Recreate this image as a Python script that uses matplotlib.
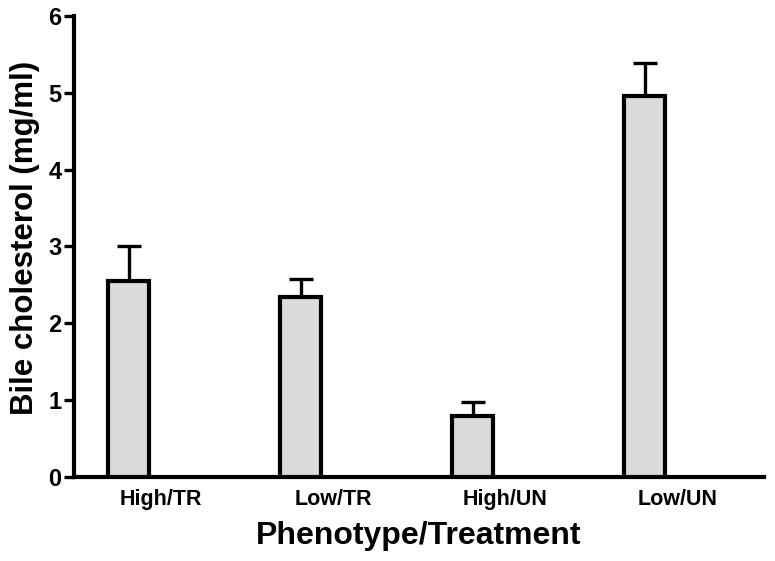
import matplotlib
matplotlib.use("Agg")
import matplotlib.pyplot as plt
import numpy as np

categories = ["High/TR", "Low/TR", "High/UN", "Low/UN"]
means = [2.55, 2.34, 0.79, 4.96]
sem = [0.45, 0.23, 0.19, 0.43]
yticks = [0, 1, 2, 3, 4, 5, 6]

plt.rcParams['font.family'] = ['Liberation Sans', 'DejaVu Sans']
plt.rcParams['font.weight'] = 'bold'

fig = plt.figure(figsize=(7.75, 5.61), dpi=100)
ax = fig.add_axes([0.0955, 0.150, 0.8905, 0.8215])

x = np.arange(len(categories))
ax.errorbar(x, means, yerr=[np.zeros(len(sem)), sem], fmt='none',
            ecolor='black', elinewidth=2.4, capsize=8.5, capthick=2.4, zorder=2)
ax.bar(x, means, width=0.235, color='#dadada', edgecolor='black', linewidth=3.0, zorder=3)

ax.set_xlim(-0.317, 3.695)
ax.set_ylim(0, 6)
ax.set_yticks(yticks)
ax.set_yticklabels([str(t) for t in yticks])
ax.set_xticks(x + 0.19)
ax.set_xticklabels(categories)

for s in ['top', 'right']:
    ax.spines[s].set_visible(False)
for s in ['left', 'bottom']:
    ax.spines[s].set_linewidth(3.0)

ax.tick_params(axis='y', direction='out', length=7.5, width=2.4, pad=1.5, labelsize=17)
ax.tick_params(axis='x', length=0, pad=9, labelsize=15.5)
for lab in ax.get_xticklabels() + ax.get_yticklabels():
    lab.set_fontweight('bold')

ax.set_xlabel("Phenotype/Treatment", fontsize=23, fontweight='bold', labelpad=8)
ax.set_ylabel("Bile cholesterol (mg/ml)", fontsize=22.5, fontweight='bold')
ax.yaxis.set_label_coords(-0.050, 0.519)

fig.savefig("out.png", dpi=100)
